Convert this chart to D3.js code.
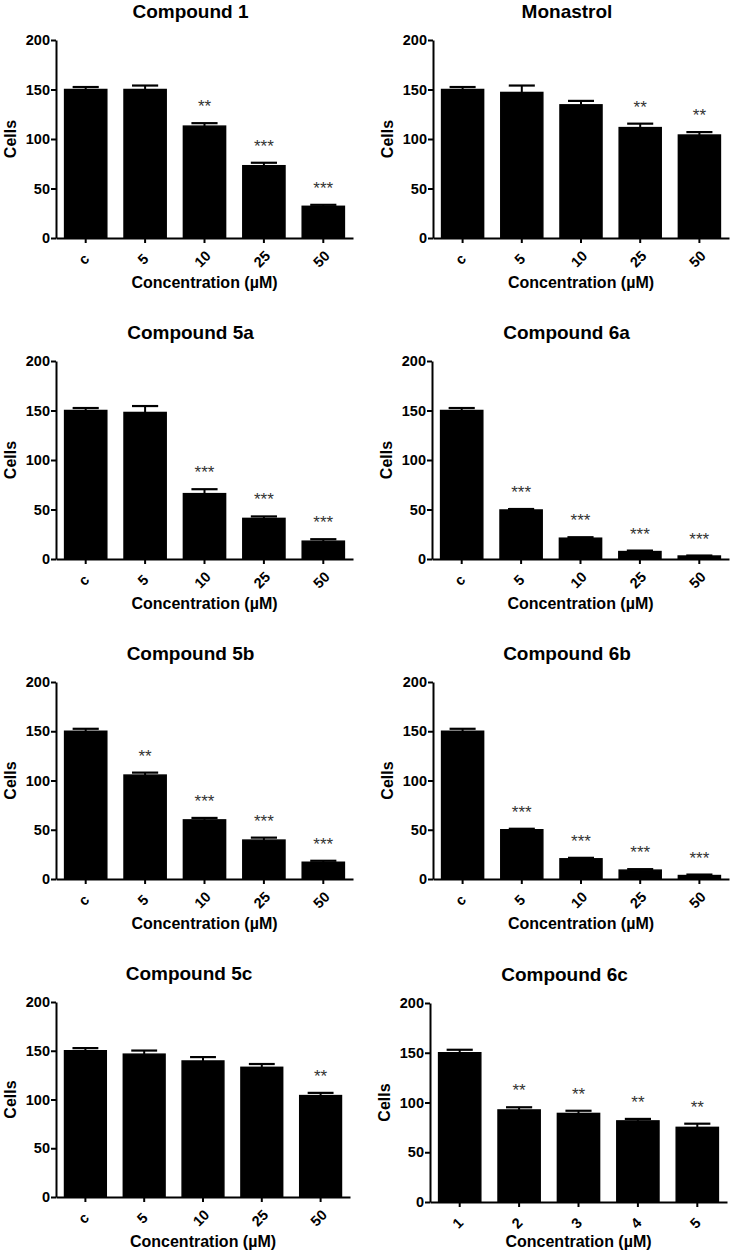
<!DOCTYPE html>
<html>
<head>
<meta charset="utf-8">
<script src="https://cdn.jsdelivr.net/npm/d3@7"></script>
<style>
  html, body { margin: 0; padding: 0; background: #fff; }
  svg { display: block; }
  text { font-family: "Liberation Sans", Arial, Helvetica, sans-serif; }
</style>
</head>
<body>
<svg id="chart" width="734" height="1254"></svg>
<script>
// ---------- data ----------
const panelTitles = ["Compound 1", "Monastrol", "Compound 5a", "Compound 6a",
                     "Compound 5b", "Compound 6b", "Compound 5c", "Compound 6c"];
const concCategories = ["c", "5", "10", "25", "50"];
const concCategories6c = ["1", "2", "3", "4", "5"];
const yTickValues = [0, 50, 100, 150, 200];
const yAxisLabel = "Cells";
const xAxisLabel = "Concentration (\u00B5M)";

const compound1Values  = [150, 150, 113, 73, 32];
const compound1Errors  = [2.5, 4, 3, 3, 1.5];
const compound1Stars   = ["", "", "**", "***", "***"];

const monastrolValues  = [150, 147, 134.5, 111.5, 104];
const monastrolErrors  = [2.5, 7, 4, 4, 3];
const monastrolStars   = ["", "", "", "**", "**"];

const compound5aValues = [150, 148, 66, 41, 18];
const compound5aErrors = [2.5, 6.5, 4.5, 2, 2];
const compound5aStars  = ["", "", "***", "***", "***"];

const compound6aValues = [150, 49.5, 21, 7.5, 3];
const compound6aErrors = [2.5, 1, 1, 1, 0.5];
const compound6aStars  = ["", "***", "***", "***", "***"];

const compound5bValues = [150, 105.5, 60, 39.5, 17];
const compound5bErrors = [2.5, 2.5, 2, 2.5, 1.5];
const compound5bStars  = ["", "**", "***", "***", "***"];

const compound6bValues = [150, 50, 20.5, 9, 3.5];
const compound6bErrors = [2.5, 1, 1, 1, 1];
const compound6bStars  = ["", "***", "***", "***", "***"];

const compound5cValues = [150, 146.5, 139.5, 133, 104];
const compound5cErrors = [2.7, 3.7, 4, 3.4, 2.8];
const compound5cStars  = ["", "", "", "", "**"];

const compound6cValues = [150, 92.5, 89, 81.5, 75];
const compound6cErrors = [3, 2.7, 2.7, 2, 3.7];
const compound6cStars  = ["", "**", "**", "**", "**"];

// ---------- panel assembly ----------
const panels = [
  { title: panelTitles[0], cats: concCategories,   values: compound1Values,  errors: compound1Errors,  stars: compound1Stars },
  { title: panelTitles[1], cats: concCategories,   values: monastrolValues,  errors: monastrolErrors,  stars: monastrolStars },
  { title: panelTitles[2], cats: concCategories,   values: compound5aValues, errors: compound5aErrors, stars: compound5aStars },
  { title: panelTitles[3], cats: concCategories,   values: compound6aValues, errors: compound6aErrors, stars: compound6aStars },
  { title: panelTitles[4], cats: concCategories,   values: compound5bValues, errors: compound5bErrors, stars: compound5bStars },
  { title: panelTitles[5], cats: concCategories,   values: compound6bValues, errors: compound6bErrors, stars: compound6bStars },
  { title: panelTitles[6], cats: concCategories,   values: compound5cValues, errors: compound5cErrors, stars: compound5cStars },
  { title: panelTitles[7], cats: concCategories6c, values: compound6cValues, errors: compound6cErrors, stars: compound6cStars }
];

// ---------- layout (pixel frames of each plot area) ----------
const frames = [
  { x0: 56,  x1: 353, yTop: 40,   yBot: 238,  xTitleDy: 50 },
  { x0: 433, x1: 729, yTop: 40,   yBot: 238,  xTitleDy: 50 },
  { x0: 56,  x1: 353, yTop: 361,  yBot: 559,  xTitleDy: 50 },
  { x0: 432, x1: 729, yTop: 361,  yBot: 559,  xTitleDy: 50 },
  { x0: 56,  x1: 353, yTop: 682,  yBot: 879,  xTitleDy: 50 },
  { x0: 433, x1: 729, yTop: 682,  yBot: 879,  xTitleDy: 50 },
  { x0: 56,  x1: 350, yTop: 1002, yBot: 1197, xTitleDy: 50 },
  { x0: 430, x1: 727, yTop: 1003, yBot: 1202, xTitleDy: 45 }
];

const svg = d3.select("#chart");

panels.forEach((p, i) => {
  const f = frames[i];
  const g = svg.append("g");

  const x = d3.scaleBand()
    .domain(p.cats)
    .range([f.x0, f.x1])
    .paddingInner(0.29)
    .paddingOuter(0.145);

  const y = d3.scaleLinear()
    .domain([0, 200])
    .range([f.yBot, f.yTop]);

  const rows = p.cats.map((c, k) => ({ cat: c, v: p.values[k], e: p.errors[k], s: p.stars[k] }));

  // bars
  g.selectAll("rect.bar").data(rows).enter().append("rect")
    .attr("class", "bar")
    .attr("x", d => x(d.cat))
    .attr("width", x.bandwidth())
    .attr("y", d => y(d.v))
    .attr("height", d => y(0) - y(d.v))
    .attr("fill", "#000")
    .attr("stroke", "#000")
    .attr("stroke-width", 1.5);

  // error bars (upper only)
  const capW = x.bandwidth() * 0.62;
  g.selectAll("line.err").data(rows).enter().append("line")
    .attr("x1", d => x(d.cat) + x.bandwidth() / 2)
    .attr("x2", d => x(d.cat) + x.bandwidth() / 2)
    .attr("y1", d => y(d.v))
    .attr("y2", d => y(d.v + d.e))
    .attr("stroke", "#000").attr("stroke-width", 2);
  g.selectAll("line.cap").data(rows).enter().append("line")
    .attr("x1", d => x(d.cat) + x.bandwidth() / 2 - capW / 2)
    .attr("x2", d => x(d.cat) + x.bandwidth() / 2 + capW / 2)
    .attr("y1", d => y(d.v + d.e))
    .attr("y2", d => y(d.v + d.e))
    .attr("stroke", "#000").attr("stroke-width", 2.2);

  // significance stars
  g.selectAll("text.star").data(rows.filter(d => d.s)).enter().append("text")
    .attr("x", d => x(d.cat) + x.bandwidth() / 2)
    .attr("y", d => y(d.v + d.e) - 11)
    .attr("text-anchor", "middle")
    .attr("font-size", 17)
    .attr("fill", "#333")
    .text(d => d.s);

  // y axis
  const yAxis = g.append("g")
    .attr("transform", `translate(${f.x0},0)`)
    .call(d3.axisLeft(y).tickValues(yTickValues).tickSize(5).tickPadding(1).tickSizeOuter(0));
  yAxis.select(".domain").attr("stroke", "#000").attr("stroke-width", 2);
  yAxis.selectAll(".tick line").attr("stroke", "#000").attr("stroke-width", 2);
  yAxis.selectAll(".tick text")
    .attr("font-family", "'Liberation Sans', Arial, sans-serif")
    .attr("font-size", 14.5).attr("font-weight", "bold").attr("fill", "#000");

  // x axis
  const xAxis = g.append("g")
    .attr("transform", `translate(0,${f.yBot})`)
    .call(d3.axisBottom(x).tickSize(5).tickSizeOuter(0));
  xAxis.select(".domain").attr("stroke", "#000").attr("stroke-width", 2);
  xAxis.selectAll(".tick line").attr("stroke", "#000").attr("stroke-width", 2);
  xAxis.selectAll(".tick text")
    .attr("font-family", "'Liberation Sans', Arial, sans-serif")
    .attr("font-size", 14.5).attr("font-weight", "bold").attr("fill", "#000")
    .attr("text-anchor", "middle")
    .attr("y", 0).attr("dy", "0.35em")
    .attr("transform", "translate(-2,21) rotate(-45)");

  // title
  g.append("text")
    .attr("x", (f.x0 + f.x1) / 2 - 14)
    .attr("y", f.yTop - 22)
    .attr("text-anchor", "middle")
    .attr("font-size", 19).attr("font-weight", "bold")
    .text(p.title);

  // y label
  g.append("text")
    .attr("transform", `translate(${f.x0 - 46},${(f.yTop + f.yBot) / 2}) rotate(-90)`)
    .attr("text-anchor", "middle")
    .attr("dy", "0.35em")
    .attr("font-size", 16).attr("font-weight", "bold")
    .text(yAxisLabel);

  // x label
  g.append("text")
    .attr("x", (f.x0 + f.x1) / 2)
    .attr("y", f.yBot + f.xTitleDy)
    .attr("text-anchor", "middle")
    .attr("font-size", 16).attr("font-weight", "bold")
    .text(xAxisLabel);
});
</script>
</body>
</html>
